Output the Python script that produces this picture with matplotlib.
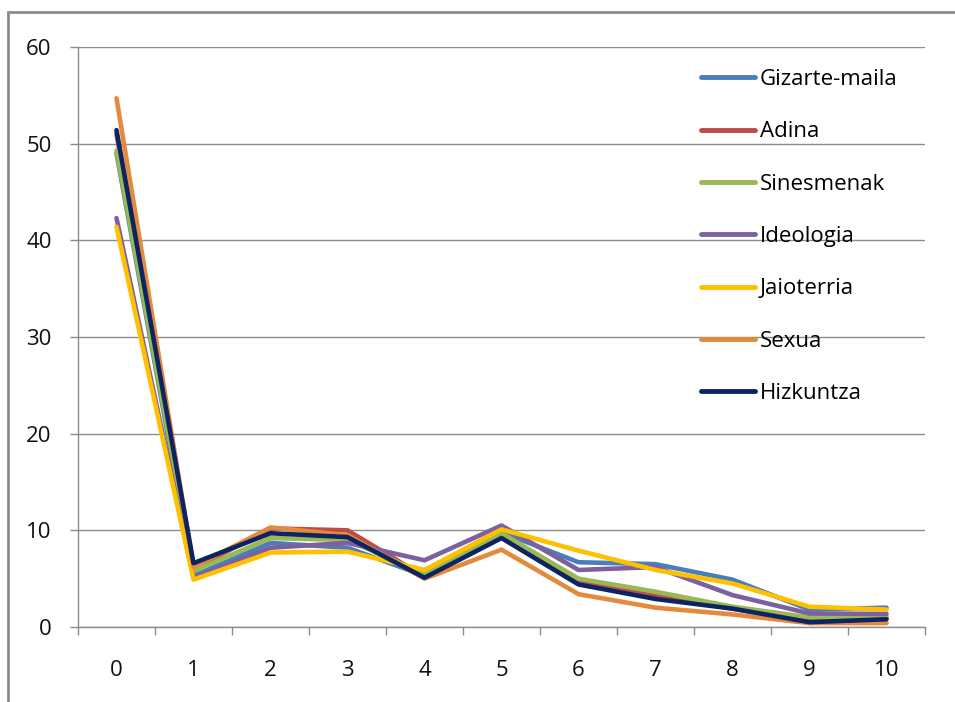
import matplotlib
matplotlib.use("Agg")
import matplotlib.pyplot as plt
from matplotlib.patches import Rectangle

plt.rcParams['font.family'] = ['Open Sans', 'DejaVu Sans']

# categories on x axis
x = list(range(11))

gizarte_maila = [49.0, 5.3, 8.7, 8.2, 5.3, 9.8, 6.7, 6.5, 4.9, 1.8, 2.0]
adina = [51.0, 6.0, 10.2, 10.0, 5.2, 9.7, 4.7, 3.2, 1.9, 0.6, 0.9]
sinesmenak = [49.3, 5.8, 9.2, 9.0, 5.5, 9.7, 5.0, 3.65, 2.1, 1.0, 1.1]
ideologia = [42.3, 5.1, 8.2, 8.7, 6.9, 10.5, 5.9, 6.2, 3.3, 1.4, 1.35]
jaioterria = [41.4, 4.9, 7.7, 7.8, 5.9, 10.1, 7.9, 5.9, 4.5, 2.1, 1.8]
sexua = [54.7, 6.2, 10.3, 9.5, 5.0, 8.0, 3.4, 2.0, 1.3, 0.4, 0.4]
hizkuntza = [51.4, 6.6, 9.7, 9.3, 5.1, 9.2, 4.4, 2.9, 1.9, 0.5, 0.8]

labels = ['Gizarte-maila', 'Adina', 'Sinesmenak', 'Ideologia',
          'Jaioterria', 'Sexua', 'Hizkuntza']
series = [gizarte_maila, adina, sinesmenak, ideologia, jaioterria, sexua, hizkuntza]
colors = ['#4A7EBB', '#BE4B48', '#98B954', '#7D60A0', '#FFC000', '#E48A3C', '#0D2463']

fig = plt.figure(figsize=(9.55, 7.02), dpi=100)
fig.patch.set_facecolor('white')

# outer chart frame (only left/top visible in the crop)
frame = Rectangle((8 / 955, -0.1), 1.2, 1.1 - 12 / 702, transform=fig.transFigure,
                  fill=False, edgecolor='#8C8C8C', lw=2)
fig.add_artist(frame)

ax = fig.add_axes([78 / 955, 1 - 627 / 702, (925 - 78) / 955, (627 - 47) / 702])

for vals, lab, c in zip(series, labels, colors):
    ax.plot(x, vals, color=c, lw=3.3, label=lab,
            solid_capstyle='round', solid_joinstyle='round')

ax.set_xlim(-0.5, 10.5)
ax.set_ylim(0, 60)
ax.set_yticks(range(0, 61, 10))
ax.set_xticks(x)
ax.set_xticks([i - 0.5 for i in range(12)], minor=True)

ax.grid(axis='y', color='#8C8C8C', lw=1)
ax.set_axisbelow(True)
for s in ['top', 'right']:
    ax.spines[s].set_visible(False)
for s in ['left', 'bottom']:
    ax.spines[s].set_color('#8C8C8C')
    ax.spines[s].set_linewidth(1)

ax.tick_params(axis='y', length=6, width=1, color='#8C8C8C', pad=13,
               labelsize=16, labelcolor='#111111')
ax.tick_params(axis='x', which='major', length=0, pad=24,
               labelsize=16, labelcolor='#111111')
ax.tick_params(axis='x', which='minor', length=6, width=1, color='#8C8C8C')

leg = ax.legend(loc='upper left', bbox_to_anchor=(701 / 955, 1 - 69 / 702),
                bbox_transform=fig.transFigure, frameon=False, fontsize=16,
                handlelength=2.45, handletextpad=0.2, labelspacing=1.41,
                borderpad=0, borderaxespad=0)
for line in leg.get_lines():
    line.set_linewidth(3.5)

fig.savefig('out.png', dpi=100, facecolor='white')
